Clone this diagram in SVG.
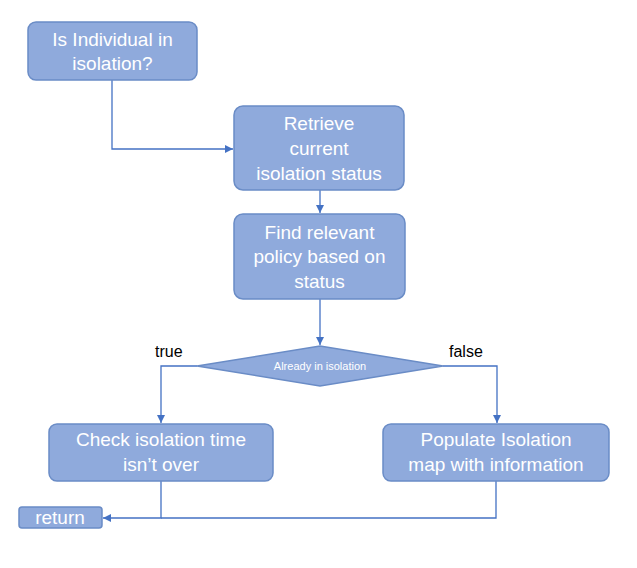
<svg xmlns="http://www.w3.org/2000/svg" width="637" height="568" viewBox="0 0 637 568">
<style>
.box{fill:#8FAADC;stroke:#6A8CC6;stroke-width:1.5}
.t{font-family:"Liberation Sans",Arial,sans-serif;font-size:19px;fill:#FFFFFF;text-anchor:middle}
.lbl{font-family:"Liberation Sans",Arial,sans-serif;font-size:16px;fill:#000000}
.c{fill:none;stroke:#4472C4;stroke-width:1.3}
</style>
<defs>
<marker id="ah" viewBox="0 0 10 10" refX="10" refY="5" markerWidth="8" markerHeight="8" markerUnits="userSpaceOnUse" orient="auto">
<path d="M0,0 L10,5 L0,10 z" fill="#4472C4"/>
</marker>
</defs>
<rect width="637" height="568" fill="#FFFFFF"/>
<g id="connectors">
<polyline class="c" points="112,80 112,149 233,149" marker-end="url(#ah)"/>
<line class="c" x1="320" y1="190" x2="320" y2="213" marker-end="url(#ah)"/>
<line class="c" x1="320" y1="299" x2="320" y2="345" marker-end="url(#ah)"/>
<polyline class="c" points="197,366 161,366 161,423" marker-end="url(#ah)"/>
<polyline class="c" points="443,366 497,366 497,423" marker-end="url(#ah)"/>
<polyline class="c" points="161,481 161,518 103,518" marker-end="url(#ah)"/>
<polyline class="c" points="496,481 496,518 161,518"/>
<text class="lbl" x="155" y="357">true</text>
<text class="lbl" x="449" y="357">false</text>
</g>
<g id="n1">
<rect class="box" x="28" y="22" width="169" height="58" rx="8"/>
<text class="t" x="112.5" y="46">Is Individual in</text>
<text class="t" x="112.5" y="70">isolation?</text>
</g>
<g id="n2">
<rect class="box" x="234" y="106" width="170" height="84" rx="9"/>
<text class="t" x="319" y="130">Retrieve</text>
<text class="t" x="319" y="155">current</text>
<text class="t" x="319" y="180">isolation status</text>
</g>
<g id="n3">
<rect class="box" x="234" y="214" width="171" height="85" rx="9"/>
<text class="t" x="319.5" y="239">Find relevant</text>
<text class="t" x="319.5" y="263">policy based on</text>
<text class="t" x="319.5" y="288">status</text>
</g>
<g id="n4">
<polygon class="box" points="197,366 320,346 443,366 320,386"/>
<text x="320" y="370" style="font-family:'Liberation Sans',Arial,sans-serif;font-size:11px;fill:#FFFFFF;text-anchor:middle">Already in isolation</text>
</g>
<g id="n5">
<rect class="box" x="49" y="424" width="224" height="57" rx="8"/>
<text class="t" x="161" y="446">Check isolation time</text>
<text class="t" x="161" y="471">isn’t over</text>
</g>
<g id="n6">
<rect class="box" x="383" y="424" width="226" height="57" rx="8"/>
<text class="t" x="496" y="446">Populate Isolation</text>
<text class="t" x="496" y="471">map with information</text>
</g>
<g id="n7">
<rect class="box" x="19" y="507" width="83" height="21" rx="3"/>
<text class="t" x="60" y="524">return</text>
</g>
</svg>
